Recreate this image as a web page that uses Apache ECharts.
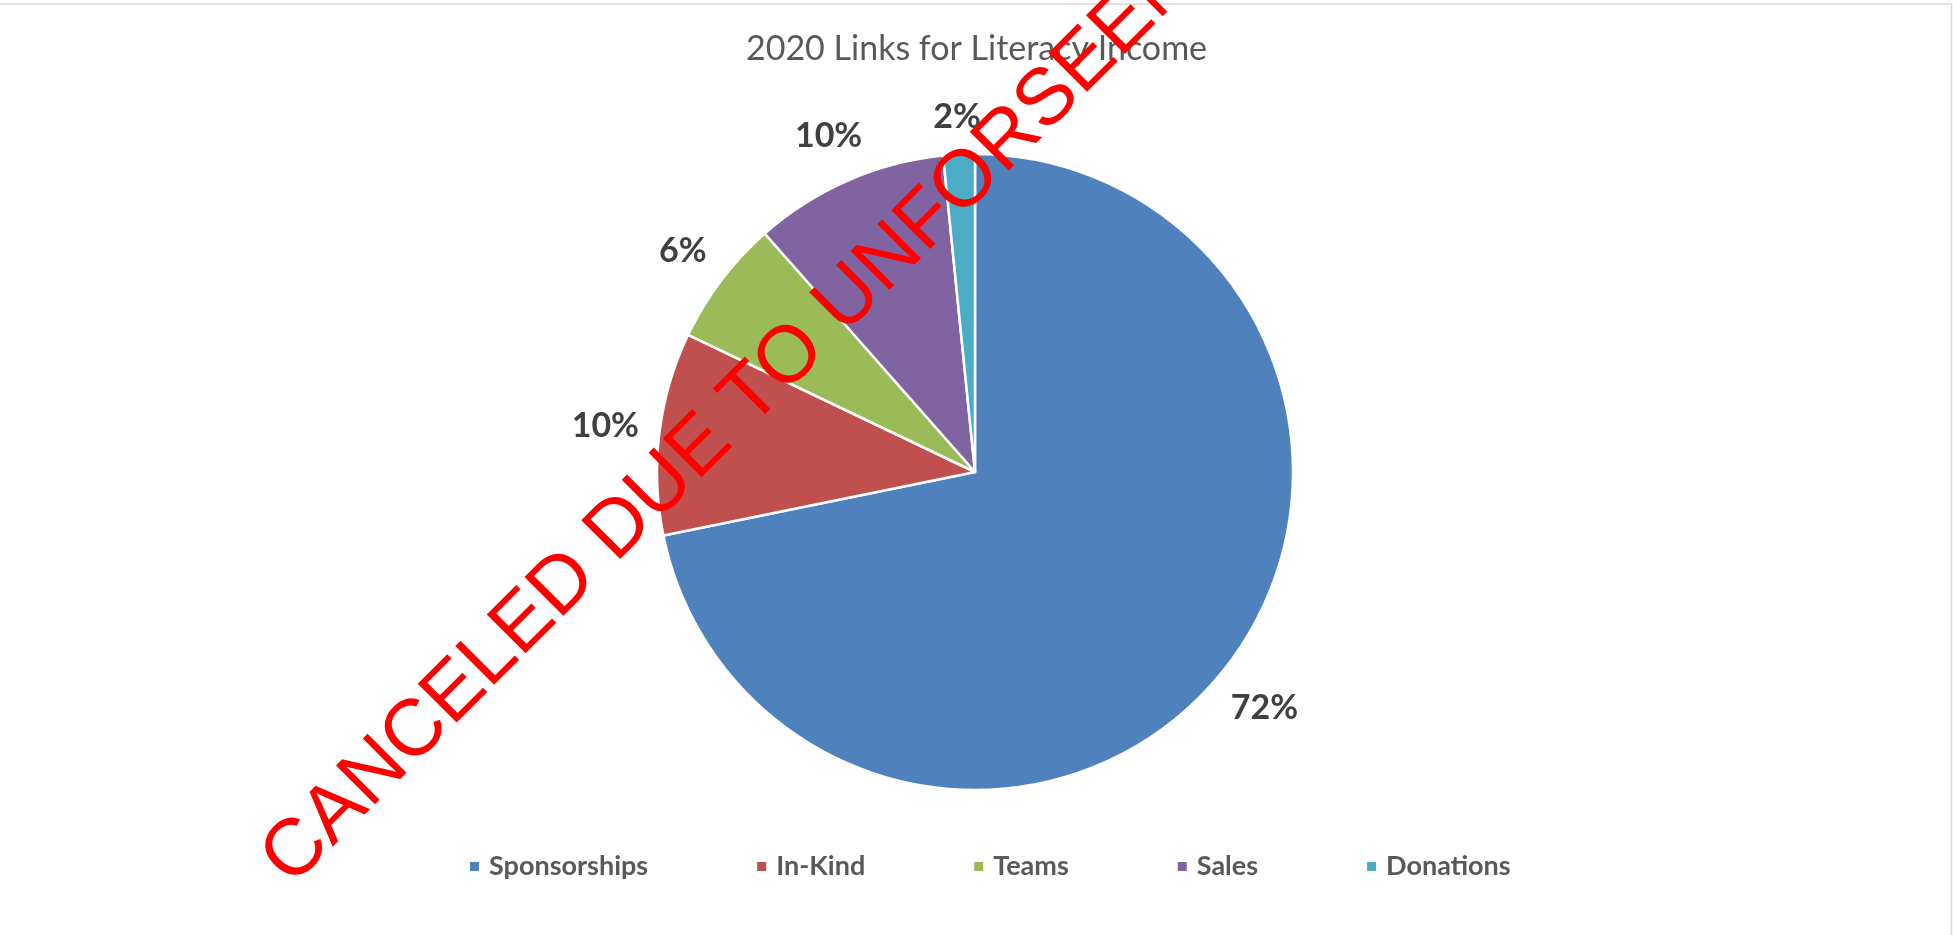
<!DOCTYPE html>
<html>
<head>
<meta charset="utf-8">
<title>2020 Links for Literacy Income</title>
<script src="https://cdn.jsdelivr.net/npm/echarts@6/dist/echarts.min.js"></script>
<style>
  html, body { margin: 0; padding: 0; background: #fff; }
  #chart { width: 1953px; height: 935px; }
</style>
</head>
<body>
<div id="chart"></div>
<script>
// income share by source (percent)
const categories = ['Sponsorships', 'In-Kind', 'Teams', 'Sales', 'Donations']
const values = [71.8, 10.3, 6.4, 9.9, 1.6]
const colors = ['#4F81BD', '#C0504D', '#9BBB59', '#8064A2', '#4BACC6']
const titleText = '2020 Links for Literacy Income'
const stampText = 'CANCELED DUE TO UNFORSEEN'

const pieCenter = [975, 472]
const pieRadius = 318
const labelGap = 19

const chart = echarts.init(document.getElementById('chart'))

// excel style "outside end": label box sits just past the arc, centred on the slice's mid angle
function placeLabel(params) {
  const total = values.reduce((a, b) => a + b, 0)
  let before = 0
  for (let i = 0; i < params.dataIndex; i++) before += values[i]
  const mid = (before + values[params.dataIndex] / 2) / total * Math.PI * 2
  const ux = Math.sin(mid)
  const uy = -Math.cos(mid)
  const hw = params.labelRect.width / 2
  const hh = params.labelRect.height / 2
  const d = pieRadius + labelGap + hw * Math.abs(ux) + hh * Math.abs(uy)
  return {
    x: pieCenter[0] + ux * d,
    y: pieCenter[1] + uy * d,
    align: 'center',
    verticalAlign: 'middle'
  }
}

chart.setOption({
  animation: false,
  color: colors,
  title: {
    text: titleText,
    left: 'center',
    top: 32,
    padding: 0,
    textStyle: {
      fontFamily: 'Lato',
      fontWeight: 'normal',
      fontSize: 34,
      color: '#595959'
    }
  },
  legend: {
    left: 468,
    top: 853,
    padding: 0,
    icon: 'rect',
    itemWidth: 11,
    itemHeight: 11,
    itemGap: 107,
    data: categories,
    textStyle: {
      fontFamily: 'Lato',
      fontWeight: 'bold',
      fontSize: 27,
      color: '#595959',
      padding: [0, 0, 0, 4]
    }
  },
  series: [
    {
      type: 'pie',
      center: pieCenter,
      radius: pieRadius,
      startAngle: 90,
      clockwise: true,
      avoidLabelOverlap: false,
      data: categories.map((name, i) => ({ name: name, value: values[i] })),
      itemStyle: {
        borderColor: '#fff',
        borderWidth: 2.5
      },
      label: {
        show: true,
        position: 'outside',
        formatter: (p) => Math.round(p.percent) + '%',
        fontFamily: 'Lato',
        fontWeight: 'bold',
        fontSize: 34,
        color: '#404040'
      },
      labelLine: {
        show: false,
        length: 20,
        length2: 0
      },
      labelLayout: placeLabel,
      emphasis: { disabled: true }
    }
  ],
  graphic: [
    // chart-area border, partly outside the visible frame
    {
      type: 'rect',
      silent: true,
      shape: { x: -10, y: 4, width: 1961.5, height: 960 },
      style: { fill: null, stroke: '#d9d9d9', lineWidth: 1.5 }
    },
    // red stamp across the chart
    {
      type: 'text',
      silent: true,
      x: 276,
      y: 872,
      rotation: Math.PI / 4,
      z: 100,
      style: {
        text: stampText,
        font: '80px "Liberation Sans"',
        fill: '#ff0000',
        textAlign: 'left',
        textVerticalAlign: 'middle'
      }
    }
  ]
})
</script>
</body>
</html>
